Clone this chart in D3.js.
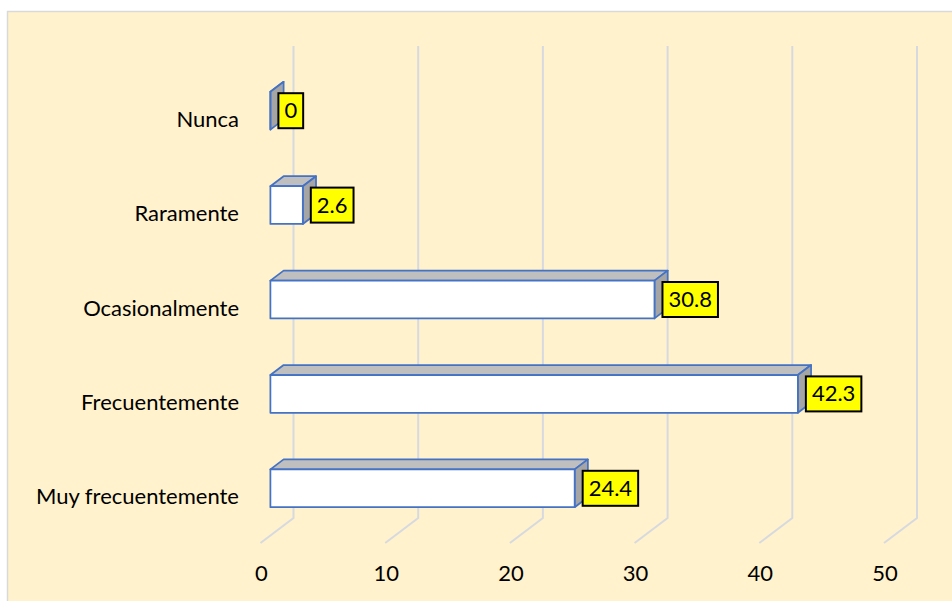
<!DOCTYPE html>
<html><head><meta charset="utf-8">
<script src="https://cdn.jsdelivr.net/npm/d3@7"></script>
<style>html,body{margin:0;padding:0;background:#fff;}svg{display:block;}</style>
</head><body>
<svg id="c" width="952" height="601"></svg>
<script>
const categories = ["Nunca", "Raramente", "Ocasionalmente", "Frecuentemente", "Muy frecuentemente"];
const values = [0, 2.6, 30.8, 42.3, 24.4];
const ticks = [0, 10, 20, 30, 40, 50];

const svg = d3.select("#c");
const FONT = "Lato, 'Open Sans', sans-serif";
const FS = 22;

svg.append("rect").attr("x", 7.5).attr("y", 11.5).attr("width", 980).attr("height", 620)
  .attr("fill", "#FFF2CC").attr("stroke", "#D9D9D9").attr("stroke-width", 1.5);

// back-plane scales
const x = d3.scaleLinear().domain([0, 50]).range([293.5, 917]);
const y = d3.scaleBand().domain(categories).range([46, 518]).paddingInner(0.6).paddingOuter(0.3);
const DX = -33, DY = 25; // depth vector back->front
const P = (xv, yv, z) => [x(xv) + z * DX, yv + z * DY];

// gridlines (back wall + floor)
const g = svg.append("g");
ticks.forEach(t => {
  const top = P(t, 46, 0), bot = P(t, 518, 0), fr = P(t, 518, 1);
  g.append("path").attr("d", d3.line()([top, bot, fr]))
    .attr("fill", "none").attr("stroke", "#D6DAE0").attr("stroke-width", 2);
});

// tick labels
svg.append("g").selectAll("text").data(ticks).join("text")
  .attr("x", d => P(d, 518, 1)[0] + 1).attr("y", 581)
  .attr("text-anchor", "middle").attr("font-family", FONT).attr("font-size", FS).attr("fill", "#000")
  .text(d => d);

// category labels
svg.append("g").selectAll("text").data(categories).join("text")
  .attr("x", 239).attr("y", d => y(d) + y.bandwidth() / 2 + DY + 8.5)
  .attr("text-anchor", "end").attr("font-family", FONT).attr("font-size", FS).attr("fill", "#000")
  .text(d => d);

// bars
const zf = 0.7, zb = 0.3;
const bars = svg.append("g");
categories.forEach((c, i) => {
  const v = values[i];
  const y0 = y(c), y1 = y(c) + y.bandwidth();
  const ftl = P(0, y0, zf), ftr = P(v, y0, zf), fbr = P(v, y1, zf), fbl = P(0, y1, zf);
  const btl = P(0, y0, zb), btr = P(v, y0, zb), bbr = P(v, y1, zb);
  const poly = pts => d3.line()(pts) + "Z";
  bars.append("path").attr("d", poly([ftl, ftr, btr, btl]))
    .attr("fill", "#BFBFBF").attr("stroke", "#4472C4").attr("stroke-width", 1.75).attr("stroke-linejoin", "round");
  bars.append("path").attr("d", poly([ftr, btr, bbr, fbr]))
    .attr("fill", "#A5A5A5").attr("stroke", "#4472C4").attr("stroke-width", 1.75).attr("stroke-linejoin", "round");
  bars.append("path").attr("d", poly([ftl, ftr, fbr, fbl]))
    .attr("fill", "#FFFFFF").attr("stroke", "#4472C4").attr("stroke-width", 1.75).attr("stroke-linejoin", "round");

  // data label
  const cy = (ftr[1] + fbr[1]) / 2;
  const lg = svg.append("g");
  const rect = lg.append("rect").attr("fill", "#FFFF00").attr("stroke", "#000").attr("stroke-width", 2);
  const t = lg.append("text").attr("font-family", FONT).attr("font-size", FS).attr("fill", "#000").text(v);
  const w = t.node().getComputedTextLength();
  const pad = 6;
  const bx = ftr[0] + 8, bw = w + 2 * pad, bh = 35;
  rect.attr("x", bx).attr("y", cy - bh / 2).attr("width", bw).attr("height", bh);
  t.attr("x", bx + pad).attr("y", cy + 7.5);
});
</script>
</body></html>
